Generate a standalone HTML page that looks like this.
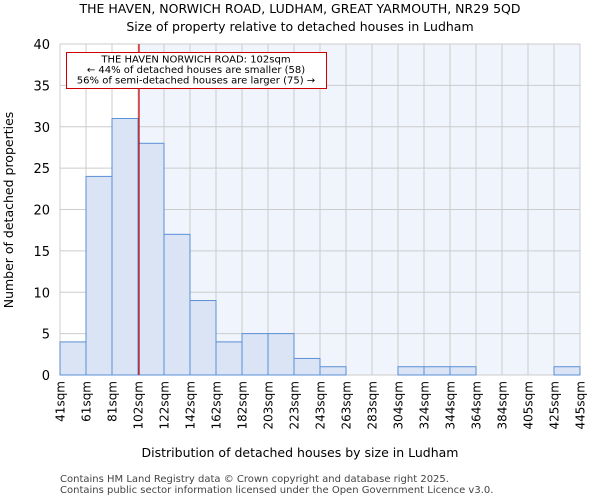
<!DOCTYPE html>
<html><head><meta charset="utf-8"><style>
body{margin:0;background:#fff;font-family:"DejaVu Sans","Liberation Sans",sans-serif}
</style></head><body>
<svg id="c" width="600" height="500" xmlns="http://www.w3.org/2000/svg" font-family="DejaVu Sans, Liberation Sans, sans-serif">
<text x="300" y="13" text-anchor="middle" font-size="12.5">THE HAVEN, NORWICH ROAD, LUDHAM, GREAT YARMOUTH, NR29 5QD</text>
<text x="300" y="31" text-anchor="middle" font-size="12.5">Size of property relative to detached houses in Ludham</text>
<g id="plot"></g>
<text x="300" y="457" text-anchor="middle" font-size="12.5">Distribution of detached houses by size in Ludham</text>
<text transform="translate(13,210) rotate(-90)" text-anchor="middle" font-size="12.5">Number of detached properties</text>
<text x="60" y="482" font-size="10" fill="#444">Contains HM Land Registry data © Crown copyright and database right 2025.</text>
<text x="60" y="493" font-size="10" fill="#444">Contains public sector information licensed under the Open Government Licence v3.0.</text>
</svg>
<script>
const categories=["41sqm","61sqm","81sqm","102sqm","122sqm","142sqm","162sqm","182sqm","203sqm","223sqm","243sqm","263sqm","283sqm","304sqm","324sqm","344sqm","364sqm","384sqm","405sqm","425sqm","445sqm"];
const counts=[4,24,31,28,17,9,4,5,5,2,1,0,0,1,1,1,0,0,0,1];
const yTicks=[0,5,10,15,20,25,30,35,40];
const markerIndex=3;
const NS="http://www.w3.org/2000/svg";
const L=60,R=580,T=44,B=375,yMax=40;
const bw=(R-L)/counts.length;
const x=i=>L+i*bw;
const y=v=>B-(v/yMax)*(B-T);
const g=document.getElementById('plot');
function mk(t,a,p){const e=document.createElementNS(NS,t);for(const k in a)e.setAttribute(k,a[k]);(p||g).appendChild(e);return e;}
let e;
e=mk('rect',{x:L,y:T,width:R-L,height:B-T,fill:'#fff'});


e=mk('rect',{x:x(markerIndex),y:T,width:R-x(markerIndex),height:B-T,fill:'#f0f4fc'});


categories.forEach((c,i)=>{
 e=mk('line',{x1:x(i),x2:x(i),y1:T,y2:B,stroke:'#ccc','stroke-width':1});
 
 
 e=mk('text',{transform:`translate(${x(i)+4.5},${B+6}) rotate(-90)`,'text-anchor':'end','font-size':12});
 e.textContent=c;
 
 
});
yTicks.forEach(v=>{
 e=mk('line',{x1:L,x2:R,y1:y(v),y2:y(v),stroke:'#ccc','stroke-width':1});
 
 
 e=mk('text',{x:L-10,y:y(v)+5,'text-anchor':'end','font-size':13});
 e.textContent=v;
 
 
});
counts.forEach((v,i)=>{
 if(v<=0)return;
 e=mk('rect',{x:x(i),y:y(v),width:bw,height:B-y(v),fill:'#dae4f5',stroke:'#5b8fd6','stroke-width':1});
 
 
});
e=mk('line',{x1:x(markerIndex)+1,x2:x(markerIndex)+1,y1:T,y2:B,stroke:'#c00','stroke-width':1.2});


const ag=mk('g',{});


mk('rect',{x:66.5,y:52.5,width:260,height:36,fill:'#fff',stroke:'#c00','stroke-width':1},ag);
["THE HAVEN NORWICH ROAD: 102sqm","← 44% of detached houses are smaller (58)","56% of semi-detached houses are larger (75) →"].forEach((t,k)=>{
 const tx=mk('text',{x:196,y:62.5+k*10.5,'text-anchor':'middle','font-size':10},ag);
 tx.textContent=t;
 
 
});
</script>
</body></html>
